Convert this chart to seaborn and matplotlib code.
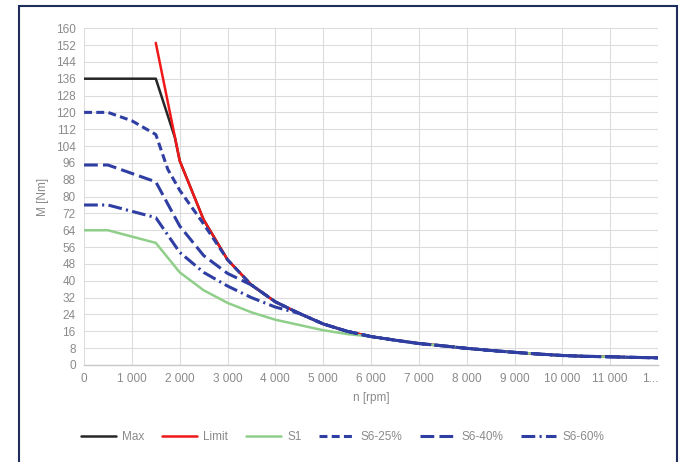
import seaborn as sns
import matplotlib.pyplot as plt
from matplotlib.patches import Rectangle
import pandas as pd

#dados (n em rpm, M em Nm)
tail_n = [3000, 3500, 4000, 4500, 5000, 5500, 6000, 6500, 7000, 7500, 8000,
          8500, 9000, 9500, 10000, 10500, 11000, 11500, 12000]
tail_m = [50, 38, 30, 24.5, 19.5, 16, 13.5, 11.8, 10.2, 9.1, 7.9,
          6.9, 6.0, 5.2, 4.5, 4.1, 3.9, 3.6, 3.4]

max_n = [0, 500, 1000, 1500, 1900, 2000, 2500] + tail_n
max_m = [136, 136, 136, 136, 108, 97, 69] + tail_m

limit_n = [1500, 2000, 2500] + tail_n
limit_m = [153, 97, 69] + tail_m

s1_n = [0, 500, 1000, 1500, 2000, 2500, 3000, 3500, 4000, 4500, 5000, 5500] + tail_n[6:]
s1_m = [64, 64, 61, 58, 44, 35.5, 29.5, 25, 21.5, 19, 16.5, 14.7] + tail_m[6:]

s25_n = [0, 500, 1000, 1500, 1750, 2000, 2500] + tail_n
s25_m = [120, 120, 116, 109.5, 93, 83, 67] + tail_m

s40_n = [0, 500, 1000, 1500, 2000, 2500, 3000] + tail_n[1:]
s40_m = [95, 95, 91, 87, 66, 52, 43.5] + tail_m[1:]

s60_n = [0, 500, 1000, 1500, 2000, 2500, 3000, 3500, 4000] + tail_n[3:]
s60_m = [76, 76, 73, 70, 53.5, 44, 37.5, 32, 27.5] + tail_m[3:]

x_ticks = list(range(0, 12001, 1000))
x_labels = ["0", "1 000", "2 000", "3 000", "4 000", "5 000", "6 000", "7 000",
            "8 000", "9 000", "10 000", "11 000", "1..."]

series = [
    ("Max", max_n, max_m, "#262626", "-"),
    ("Limit", limit_n, limit_m, "#f01818", "-"),
    ("S1", s1_n, s1_m, "#8fcf8a", "-"),
    ("S6-25%", s25_n, s25_m, "#2f3ea3", (0, (2.6, 1.4))),
    ("S6-40%", s40_n, s40_m, "#2f3ea3", (0, (4.5, 1.7))),
    ("S6-60%", s60_n, s60_m, "#2f3ea3", (0, (4.5, 1.4, 0.7, 1.4))),
]

sns.set_style("white")
plt.rcParams['font.family'] = ['Liberation Sans', 'DejaVu Sans']

fig = plt.figure(figsize=(6.89, 4.62), dpi=100)
ax = fig.add_axes([0.122, 0.21, 0.833, 0.729])

for nome, n, m, cor, estilo in series:
    lw = 2.2 if nome.startswith("S6") else 1.8
    df = pd.DataFrame({"n": n, "M": m})
    sns.lineplot(data=df, x="n", y="M", ax=ax, color=cor, linestyle=estilo,
                 linewidth=lw, label=nome, sort=False, legend=False)

ax.set_xlim(0, 12000)
ax.set_ylim(0, 160)
ax.set_yticks(range(0, 161, 8))
ax.set_xticks(x_ticks)
ax.set_xticklabels(x_labels)
ax.get_xticklabels()[-1].set_horizontalalignment("right")
ax.grid(True, color="#dcdcdc", linewidth=0.8)
ax.tick_params(axis="both", colors="#8a8a8a", labelsize=8.5, length=0, pad=6)
for lado in ["top", "right", "left"]:
    ax.spines[lado].set_visible(False)
ax.spines["bottom"].set_color("#c8c8c8")
ax.spines["bottom"].set_linewidth(1.0)
ax.set_xlabel("n [rpm]", color="#8a8a8a", fontsize=8.5, labelpad=5)
ax.set_ylabel("M [Nm]", color="#8a8a8a", fontsize=8.5, labelpad=5)

handles, labels = ax.get_legend_handles_labels()
leg = fig.legend(handles, labels, loc="center", bbox_to_anchor=(0.497, 0.054),
                 ncol=6, frameon=False, fontsize=8.5, handlelength=3.0,
                 columnspacing=1.5, handletextpad=0.5)
for t in leg.get_texts():
    t.set_color("#8a8a8a")

#moldura azul do grafico
fig.patches.append(Rectangle((0.0276, -0.05), 0.955, 1.037, transform=fig.transFigure,
                             fill=False, edgecolor="#1f2d5a", linewidth=1.5))

plt.savefig("out.png", dpi=100)
